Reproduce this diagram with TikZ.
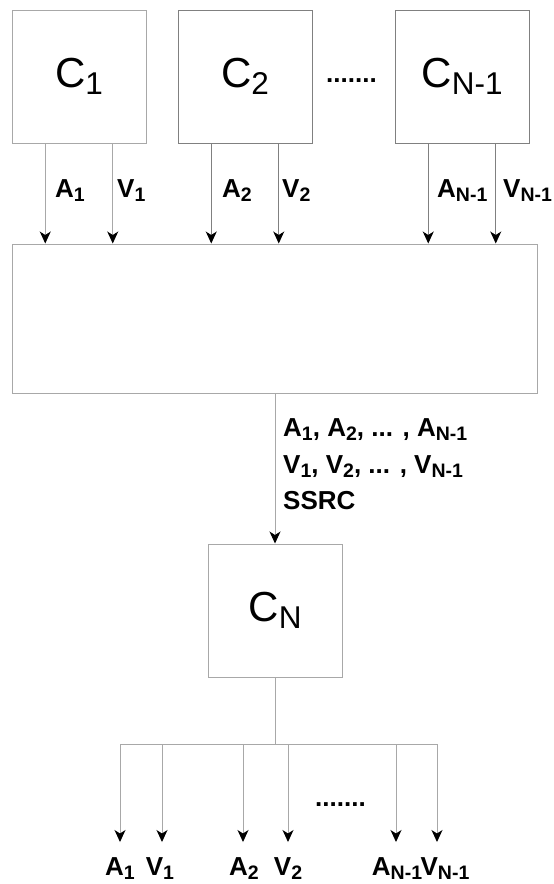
\documentclass[tikz,border=0pt]{standalone}
\usepackage{fontspec}
\usepackage{graphicx}
\setmainfont{Liberation Sans}
\usetikzlibrary{arrows.meta,calc}
\newcommand\sbs[1]{\raisebox{-0.18em}{\scalebox{0.75}{#1}}}
\definecolor{lightgray}{HTML}{A8A8A8}
\definecolor{darkgray}{HTML}{808080}
\tikzset{
  box/.style={draw=lightgray, line width=1pt, minimum width=134pt, minimum height=133pt,
    inner sep=0pt, font=\fontsize{42}{50}\selectfont},
  lbl/.style={font=\fontsize{26}{30}\selectfont\bfseries, inner sep=0pt},
  mlbl/.style={font=\fontsize{26}{30}\selectfont\bfseries, inner sep=0pt, anchor=base west},
  conn/.style={draw=lightgray, line width=1pt},
  arr/.style={conn, -{Stealth[length=12pt,width=11pt,inset=3.5pt,black]}},
}
\begin{document}
\begin{tikzpicture}[x=1pt,y=-1pt]
\useasboundingbox (0,0) rectangle (554,884);
% top boxes
\node[box] (c1) at (79,76.5) {C\sbs{1}};
\node[box, draw=darkgray] (c2) at (245,76.5) {C\sbs{2}};
\node[box, draw=darkgray] (cn1) at (462,76.5) {C\sbs{N-1}};
\node[lbl, anchor=base] (dotsT) at (351.5,82) {.......};
% middle box
\node[draw=lightgray, line width=1pt, minimum width=525pt, minimum height=149pt, inner sep=0pt] (mid) at (274.5,318.5) {};
% top arrows
\draw[arr] ($(c1.south west)!.25!(c1.south east)$) coordinate (p1) -- (p1 |- mid.north);
\draw[arr] ($(c1.south west)!.75!(c1.south east)$) coordinate (p2) -- (p2 |- mid.north);
\draw[arr, draw=darkgray] ($(c2.south west)!.25!(c2.south east)$) coordinate (p3) -- (p3 |- mid.north);
\draw[arr, draw=darkgray] ($(c2.south west)!.75!(c2.south east)$) coordinate (p4) -- (p4 |- mid.north);
\draw[arr, draw=darkgray] ($(cn1.south west)!.25!(cn1.south east)$) coordinate (p5) -- (p5 |- mid.north);
\draw[arr, draw=darkgray] ($(cn1.south west)!.75!(cn1.south east)$) coordinate (p6) -- (p6 |- mid.north);
% top labels
\node[lbl, anchor=base west] (la1) at (55,197) {A\sbs{1}};
\node[lbl, anchor=base west] (lv1) at (117,197) {V\sbs{1}};
\node[lbl, anchor=base west] (la2) at (222,197) {A\sbs{2}};
\node[lbl, anchor=base west] (lv2) at (282,197) {V\sbs{2}};
\node[lbl, anchor=base west] (la3) at (437,197) {A\sbs{N-1}};
\node[lbl, anchor=base west] (lv3) at (503,197) {V\sbs{N-1}};
% CN box
\node[box] (cn) at (275,610.5) {C\sbs{N}};
\draw[arr] (mid.south -| cn.north) -- (cn.north);
\node[mlbl] (m1) at (283,436) {A\sbs{1}, A\sbs{2}, ... , A\sbs{N-1}};
\node[mlbl] (m2) at (283,473) {V\sbs{1}, V\sbs{2}, ... , V\sbs{N-1}};
\node[mlbl] (m3) at (283,509) {SSRC};
% bottom distribution
\coordinate (bus) at (275,744);
\coordinate (e1) at (120,842);
\coordinate (e2) at (162,842);
\coordinate (e3) at (243,842);
\coordinate (e4) at (288,842);
\coordinate (e5) at (396,842);
\coordinate (e6) at (437,842);
\draw[conn] (cn.south) -- (bus);
\draw[conn] (e1 |- bus) -- (e6 |- bus);
\foreach \e in {e1,e2,e3,e4,e5,e6}{
  \draw[arr] (\e |- bus) -- (\e);
}
\node[lbl, anchor=base] (ba1) at (120,875) {A\sbs{1}};
\node[lbl, anchor=base] (bv1) at (160,875) {V\sbs{1}};
\node[lbl, anchor=base] (ba2) at (244,875) {A\sbs{2}};
\node[lbl, anchor=base] (bv2) at (288,875) {V\sbs{2}};
\node[lbl, anchor=base] (ba3) at (397,875) {A\sbs{N-1}};
\node[lbl, anchor=base] (bv3) at (445,875) {V\sbs{N-1}};
\node[lbl, anchor=base] (dotsB) at (340.5,806) {.......};
\end{tikzpicture}
\end{document}
